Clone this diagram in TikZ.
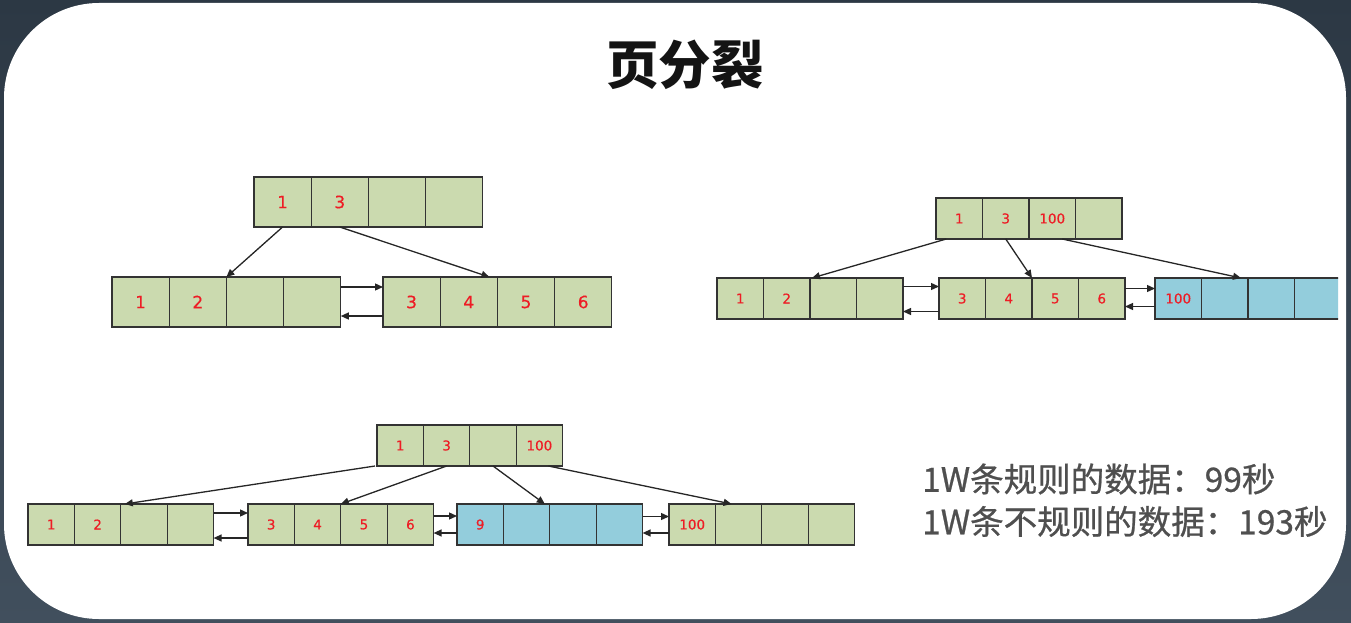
\documentclass[tikz,border=0pt]{standalone}
\usepackage{fontspec}
\newfontfamily\cjk{Noto Sans CJK SC}
\newfontfamily\cjkm[FakeBold=0.7]{Noto Sans CJK SC}
\newfontfamily\dv[FakeBold=0.4]{DejaVu Sans}
\usetikzlibrary{arrows.meta,calc}
\definecolor{bgtop}{HTML}{2C3844}
\definecolor{bgbot}{HTML}{414F5D}
\definecolor{gcell}{HTML}{CBDAAF}
\definecolor{bcell}{HTML}{93CDDC}
\definecolor{redtxt}{HTML}{EE1C25}
\definecolor{bordc}{HTML}{333333}
\definecolor{sidetxt}{HTML}{4F4F4F}
\def\cw{57.2pt}\def\ch{50pt}\def\fs{17}
\tikzset{
  cellbase/.style={draw=bordc, line width=1.1pt, minimum width=\cw, minimum height=\ch,
    inner sep=0pt, outer sep=0pt, text=redtxt, font=\dv\fontsize{\fs}{\fs}\selectfont},
  cellg/.style={cellbase, fill=gcell},
  cellb/.style={cellbase, fill=bcell},
  arr/.style={-{Triangle[length=8pt,width=7pt]}, line width=1.3pt, draw=black!85},
  sidestyle/.style={anchor=west, inner sep=0pt, text=sidetxt, font=\cjkm\fontsize{33.5}{33.5}\selectfont},
}
\newcommand\mkrow[8]{%
  \node[#4, anchor=north west] (#1-1) at (#2,#3) {#5};
  \node[#4, anchor=west] (#1-2) at (#1-1.east) {#6};
  \node[#4, anchor=west] (#1-3) at (#1-2.east) {#7};
  \node[#4, anchor=west] (#1-4) at (#1-3.east) {#8};
}
\begin{document}
\begin{tikzpicture}[x=1pt,y=-1pt]
\useasboundingbox (0,0) rectangle (1351,623);
\fill[top color=bgtop, bottom color=bgbot] (0,0) rectangle (1351,623);
\fill[white, rounded corners=95pt] (4,3) rectangle (1346,619);

% title
\node[font=\cjk\bfseries\fontsize{52.5}{52.5}\selectfont, text=black!92] (title) at (685,65) {页分裂};

% ---------- top-left ----------
\def\cw{57.2pt}\def\ch{50pt}\def\fs{17}
\mkrow{a}{254}{177}{cellg}{1}{3}{}{}
\mkrow{al}{112}{277}{cellg}{1}{2}{}{}
\mkrow{ar}{383}{277}{cellg}{3}{4}{5}{6}
\draw[arr] (a-1.south) -- (al-2.north east);
\draw[arr] (a-2.south) -- ([xshift=-8pt]ar-2.north east);
\draw[arr] ([yshift=15pt]al-4.east) -- ([yshift=15pt]ar-1.west);
\draw[arr] ([yshift=-14pt]ar-1.west) -- ([yshift=-14pt]al-4.east);

% ---------- top-right ----------
\def\cw{46.5pt}\def\ch{41pt}\def\fs{13.5}
\mkrow{b}{936}{198}{cellg}{1}{3}{100}{}
\mkrow{bl}{717}{278}{cellg}{1}{2}{}{}
\mkrow{bm}{939}{278}{cellg}{3}{4}{5}{6}
\begin{scope}
\clip (1100,250) rectangle (1338,340);
\mkrow{bb}{1155}{278}{cellb}{100}{}{}{}
\end{scope}
\draw[arr] ([xshift=-13pt]b-1.south) -- ([xshift=2pt]bl-2.north east);
\draw[arr] (b-2.south) -- (bm-2.north east);
\draw[arr] ([xshift=10pt]b-3.south) -- ([xshift=-7pt]bb-2.north east);
\draw[arr] ([yshift=12pt]bl-4.east) -- ([yshift=12pt]bm-1.west);
\draw[arr] ([yshift=-13pt]bm-1.west) -- ([yshift=-13pt]bl-4.east);
\draw[arr] ([yshift=10pt]bm-4.east) -- ([yshift=10pt]bb-1.west);
\draw[arr] ([yshift=-8pt]bb-1.west) -- ([yshift=-8pt]bm-4.east);

% ---------- bottom ----------
\def\cw{46.4pt}\def\ch{41pt}\def\fs{13.5}
\mkrow{c}{377}{425}{cellg}{1}{3}{}{100}
\mkrow{c1}{28}{504}{cellg}{1}{2}{}{}
\mkrow{c2}{248}{504}{cellg}{3}{4}{5}{6}
\mkrow{c3}{457}{504}{cellb}{9}{}{}{}
\mkrow{c4}{669}{504}{cellg}{100}{}{}{}
\draw[arr] ([xshift=-2pt]c-1.south west) -- ([xshift=4pt]c1-2.north east);
\draw[arr] (c-2.south) -- (c2-2.north east);
\draw[arr] (c-3.south) -- ([xshift=-5pt]c3-2.north east);
\draw[arr] ([xshift=9pt]c-4.south) -- ([xshift=-7pt]c4-2.north);
\draw[arr] ([yshift=11.5pt]c1-4.east) -- ([yshift=11.5pt]c2-1.west);
\draw[arr] ([yshift=-13.5pt]c2-1.west) -- ([yshift=-13.5pt]c1-4.east);
\draw[arr] ([yshift=8.5pt]c2-4.east) -- ([yshift=8.5pt]c3-1.west);
\draw[arr] ([yshift=-8.5pt]c3-1.west) -- ([yshift=-8.5pt]c2-4.east);
\draw[arr] ([yshift=8pt]c3-4.east) -- ([yshift=8pt]c4-1.west);
\draw[arr] ([yshift=-8.5pt]c4-1.west) -- ([yshift=-8.5pt]c3-4.east);

% ---------- side text ----------
\node[sidestyle] (s1) at (922,479) {1W条规则的数据：99秒};
\node[sidestyle] (s2) at (922,521.5) {1W条不规则的数据：193秒};
\end{tikzpicture}
\end{document}
